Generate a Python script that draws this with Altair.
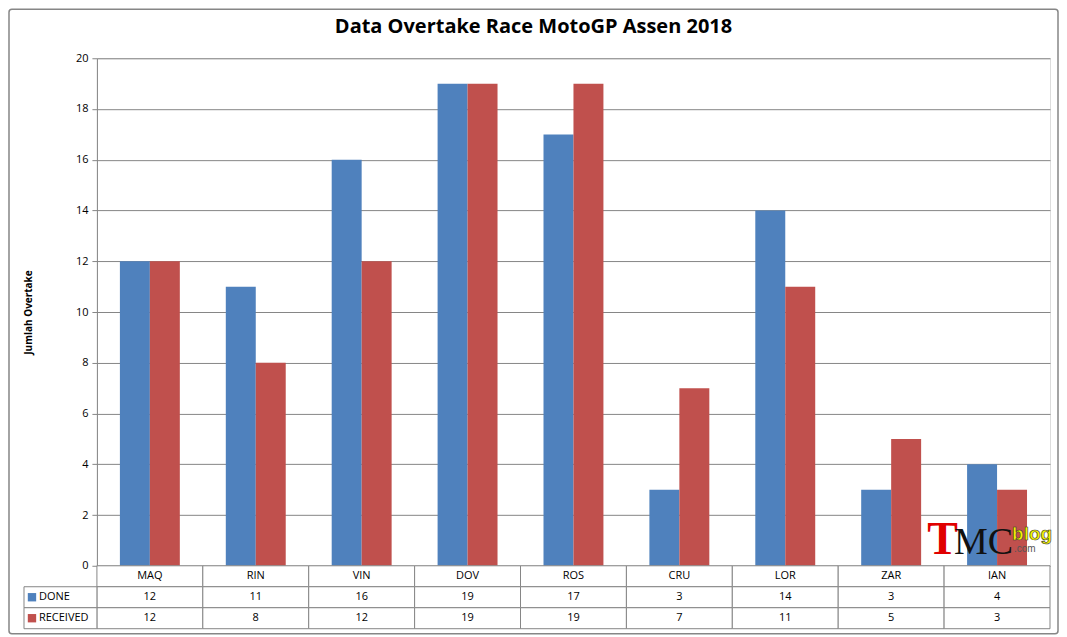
import altair as alt
import pandas as pd

# data
riders = ["MAQ", "RIN", "VIN", "DOV", "ROS", "CRU", "LOR", "ZAR", "IAN"]
done = [12, 11, 16, 19, 17, 3, 14, 3, 4]
received = [12, 8, 12, 19, 19, 7, 11, 5, 3]
series = ["DONE", "RECEIVED"]
colors = ["#4F81BD", "#C0504D"]
table_rows = ["hdr", "DONE", "RECEIVED"]

W, H = 954, 508
ROW_H = 21
GRAY = "#868686"
FONT = "Open Sans"

bars_df = pd.DataFrame({
    "rider": riders * 2,
    "series": ["DONE"] * len(riders) + ["RECEIVED"] * len(riders),
    "value": done + received,
})

cells_df = pd.DataFrame({
    "rider": riders * 3,
    "row": ["hdr"] * len(riders) + ["DONE"] * len(riders) + ["RECEIVED"] * len(riders),
    "text": riders + [str(v) for v in done] + [str(v) for v in received],
})

legend_df = pd.DataFrame({"row": series, "series": series})
one = pd.DataFrame({"a": [0]})

x_enc = alt.X("rider:N", scale=alt.Scale(domain=riders, paddingInner=0, paddingOuter=0), axis=None)
color_enc = alt.Color("series:N", scale=alt.Scale(domain=series, range=colors), legend=None)
row_scale = alt.Scale(domain=table_rows, range=[H, H + 3 * ROW_H], paddingInner=0, paddingOuter=0)
row_enc = alt.Y("row:N", scale=row_scale, axis=None)

# outer frame of the Excel chart object
border = alt.Chart(one).mark_rect(fillOpacity=0, stroke=GRAY, strokeWidth=1.5, cornerRadius=3).encode(
    x=alt.value(-88), x2=alt.value(W + 8), y=alt.value(-49), y2=alt.value(H + 3 * ROW_H + 5)
)

title = alt.Chart(one).mark_text(
    text="Data Overtake Race MotoGP Assen 2018", font=FONT, fontSize=20, fontWeight="bold",
    color="black", align="center", baseline="middle"
).encode(x=alt.value(437), y=alt.value(-31))

bars = alt.Chart(bars_df).mark_bar().encode(
    x=x_enc,
    xOffset=alt.XOffset("series:N", scale=alt.Scale(domain=series, paddingInner=0, paddingOuter=0.767)),
    y=alt.Y("value:Q", scale=alt.Scale(domain=[0, 20], nice=False),
            axis=alt.Axis(values=list(range(0, 21, 2)), grid=True, gridColor=GRAY, gridWidth=1,
                          domainColor=GRAY, tickColor=GRAY, tickSize=5, labelPadding=4,
                          labelFont=FONT, labelFontSize=11, labelColor="black",
                          title="Jumlah Overtake", titleFont=FONT, titleFontSize=10,
                          titleFontWeight="bold", titleColor="black", titleX=-63)),
    color=color_enc,
)

cells = alt.Chart(cells_df).mark_rect(fill="white", stroke=GRAY, strokeWidth=1).encode(
    x=x_enc, y=row_enc
)
cell_text = alt.Chart(cells_df).mark_text(font=FONT, fontSize=11, color="black").encode(
    x=x_enc, y=row_enc, text="text:N"
)

legend_cells = alt.Chart(legend_df).mark_rect(fill="white", stroke=GRAY, strokeWidth=1).encode(
    x=alt.value(-73), x2=alt.value(0), y=row_enc
)
legend_swatch = alt.Chart(legend_df).mark_square(size=70, opacity=1).encode(
    x=alt.value(-65), y=row_enc, color=color_enc
)
legend_text = alt.Chart(legend_df).mark_text(font=FONT, fontSize=11, color="black", align="left").encode(
    x=alt.value(-58), y=row_enc, text="series:N"
)

# TMC blog watermark
logo_t = alt.Chart(one).mark_text(text="T", font="Liberation Serif", fontSize=46, fontWeight="bold",
                                  color="#E00000", align="left", baseline="alphabetic").encode(
    x=alt.value(831), y=alt.value(496))
logo_mc = alt.Chart(one).mark_text(text="MC", font="Liberation Serif", fontSize=38,
                                   color="#111111", align="left", baseline="alphabetic").encode(
    x=alt.value(858), y=alt.value(496))
logo_blog = alt.Chart(one).mark_text(text="blog", font="Liberation Sans", fontSize=19, fontWeight="bold",
                                     color="#F2F200", stroke="#333333", strokeWidth=0.6,
                                     align="left", baseline="alphabetic").encode(
    x=alt.value(916), y=alt.value(482))
logo_com = alt.Chart(one).mark_text(text=".com", font="Liberation Sans", fontSize=10,
                                    color="#555555", align="left", baseline="alphabetic").encode(
    x=alt.value(918), y=alt.value(494))

chart = alt.layer(
    border, title, bars, cells, cell_text, legend_cells, legend_swatch, legend_text,
    logo_t, logo_mc, logo_blog, logo_com
).resolve_scale(y="independent").properties(
    width=W, height=H, padding=0
).configure_view(stroke=None).configure(background="white")

chart.save("out.html", embed_options={"renderer": "svg", "actions": False})
